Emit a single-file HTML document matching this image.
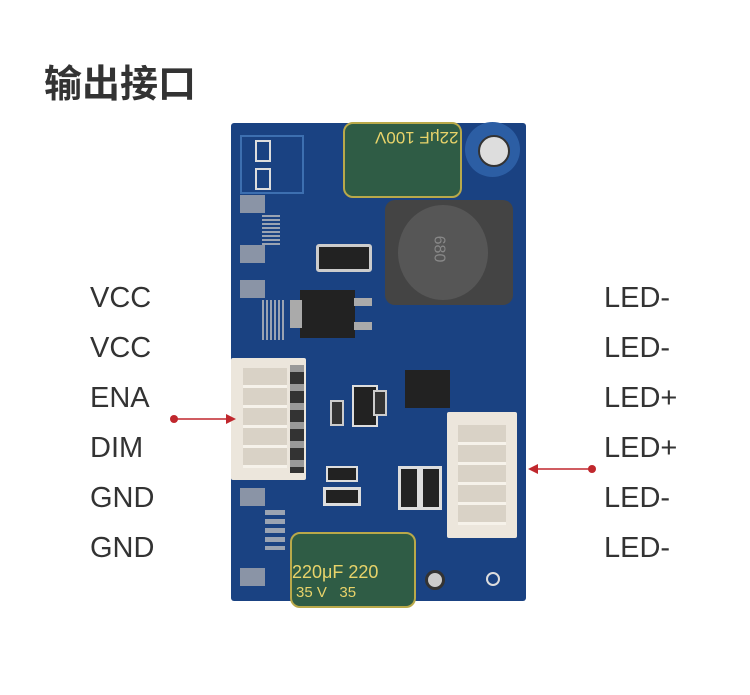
<!DOCTYPE html>
<html><head><meta charset="utf-8"><style>
body{margin:0;width:750px;height:695px;background:#fff;position:relative;overflow:hidden;font-family:"Liberation Sans","Noto Sans CJK SC",sans-serif}
.a{position:absolute}
.t{position:absolute;font-size:29px;color:#333;line-height:30px}
.pad{position:absolute;background:#8a94a6}
.bk{position:absolute;background:#222}
</style></head><body>
<div class="a" style="left:44px;top:58px;font-size:38px;font-weight:bold;color:#333;font-family:'Noto Sans CJK SC',sans-serif;line-height:46px">输出接口</div>

<div class="t" style="left:90px;top:283px">VCC</div>
<div class="t" style="left:90px;top:333px">VCC</div>
<div class="t" style="left:90px;top:383px">ENA</div>
<div class="t" style="left:90px;top:433px">DIM</div>
<div class="t" style="left:90px;top:483px">GND</div>
<div class="t" style="left:90px;top:533px">GND</div>
<div class="t" style="left:604px;top:283px">LED-</div>
<div class="t" style="left:604px;top:333px">LED-</div>
<div class="t" style="left:604px;top:383px">LED+</div>
<div class="t" style="left:604px;top:433px">LED+</div>
<div class="t" style="left:604px;top:483px">LED-</div>
<div class="t" style="left:604px;top:533px">LED-</div>

<!-- board -->
<div class="a" style="left:231px;top:123px;width:295px;height:478px;background:#1a4282;border-radius:3px"></div>
<div class="a" style="left:240px;top:135px;width:60px;height:55px;border:2px solid #3d6fb0"></div>
<div class="a" style="left:255px;top:140px;width:12px;height:18px;border:2px solid #ddd"></div>
<div class="a" style="left:255px;top:168px;width:12px;height:18px;border:2px solid #ddd"></div>
<div class="pad" style="left:240px;top:195px;width:25px;height:18px"></div>
<div class="pad" style="left:240px;top:245px;width:25px;height:18px"></div>
<div class="pad" style="left:240px;top:280px;width:25px;height:18px"></div>
<div class="pad" style="left:262px;top:215px;width:18px;height:30px;background:repeating-linear-gradient(#9aa3b2 0 2px,#1a4282 2px 4px)"></div>
<div class="pad" style="left:262px;top:300px;width:22px;height:40px;background:repeating-linear-gradient(90deg,#9aa3b2 0 2px,#1a4282 2px 4px)"></div>
<!-- top cap -->
<div class="a" style="left:343px;top:122px;width:115px;height:72px;background:#2f5c45;border-radius:10px;border:2px solid #b9a94a"></div>
<div class="a" style="left:375px;top:127px;font-size:17px;color:#e8d36a;transform:rotate(180deg)">22μF 100V</div>
<!-- mount hole -->
<div class="a" style="left:465px;top:122px;width:55px;height:55px;border-radius:50%;background:#2c5ea4"></div>
<div class="a" style="left:478px;top:135px;width:28px;height:28px;border-radius:50%;background:#ddd;border:2px solid #333"></div>
<!-- inductor -->
<div class="a" style="left:385px;top:200px;width:128px;height:105px;background:#444;border-radius:10px"></div>
<div class="a" style="left:398px;top:205px;width:90px;height:95px;border-radius:50%;background:#565656"></div>
<div class="a" style="left:425px;top:240px;font-size:16px;color:#888;transform:rotate(90deg)">680</div>
<!-- diode D2 -->
<div class="bk" style="left:316px;top:244px;width:50px;height:22px;border:3px solid #ccc;border-radius:3px"></div>
<!-- transistor -->
<div class="bk" style="left:300px;top:290px;width:55px;height:48px"></div>
<div class="pad" style="left:290px;top:300px;width:12px;height:28px;background:#aaa"></div>
<div class="pad" style="left:354px;top:298px;width:18px;height:8px;background:#aaa"></div>
<div class="pad" style="left:354px;top:322px;width:18px;height:8px;background:#aaa"></div>
<!-- IC -->
<div class="bk" style="left:405px;top:370px;width:45px;height:38px"></div>
<div class="bk" style="left:352px;top:385px;width:22px;height:38px;border:2px solid #ddd"></div>
<div class="pad" style="left:330px;top:400px;width:10px;height:22px;background:#333;border:2px solid #ccc"></div>
<div class="pad" style="left:373px;top:390px;width:10px;height:22px;background:#333;border:2px solid #ccc"></div>
<!-- resistors -->
<div class="bk" style="left:398px;top:466px;width:16px;height:38px;border:3px solid #ddd"></div>
<div class="bk" style="left:420px;top:466px;width:16px;height:38px;border:3px solid #ddd"></div>
<div class="bk" style="left:326px;top:466px;width:28px;height:12px;border:2px solid #ddd"></div>
<div class="bk" style="left:323px;top:487px;width:32px;height:13px;border:3px solid #ddd"></div>
<div class="pad" style="left:240px;top:488px;width:25px;height:18px"></div>
<div class="pad" style="left:265px;top:510px;width:20px;height:40px;background:repeating-linear-gradient(#9aa3b2 0 5px,#1a4282 5px 9px)"></div>
<div class="pad" style="left:240px;top:568px;width:25px;height:18px"></div>
<!-- left connector -->
<div class="a" style="left:231px;top:358px;width:75px;height:122px;background:#ece6dc;border-radius:2px"></div>
<div class="a" style="left:243px;top:368px;width:44px;height:100px;background:repeating-linear-gradient(#d9d2c6 0 17px,#f6f2ea 17px 20px)"></div>
<div class="a" style="left:290px;top:365px;width:14px;height:108px;background:repeating-linear-gradient(#999 0 7px,#333 7px 19px)"></div>
<!-- right connector -->
<div class="a" style="left:447px;top:412px;width:70px;height:126px;background:#ece6dc;border-radius:2px"></div>
<div class="a" style="left:458px;top:425px;width:48px;height:100px;background:repeating-linear-gradient(#d9d2c6 0 17px,#f6f2ea 17px 20px)"></div>
<!-- bottom cap -->
<div class="a" style="left:290px;top:532px;width:122px;height:72px;background:#2f5c45;border-radius:10px;border:2px solid #b9a94a"></div>
<div class="a" style="left:292px;top:562px;font-size:18px;color:#e8d36a;white-space:nowrap">220μF 220</div>
<div class="a" style="left:296px;top:584px;font-size:15px;color:#e8d36a;white-space:nowrap">35 V &nbsp; 35</div>
<div class="a" style="left:425px;top:570px;width:14px;height:14px;border-radius:50%;background:#ccc;border:3px solid #333"></div>
<div class="a" style="left:486px;top:572px;width:10px;height:10px;border-radius:50%;border:2px solid #ddd"></div>

<!-- arrows -->
<svg class="a" style="left:0;top:0" width="750" height="695">
<line x1="174" y1="419" x2="228" y2="419" stroke="#c0272d" stroke-width="1.5"/>
<circle cx="174" cy="419" r="4" fill="#c0272d"/>
<polygon points="236,419 226,414 226,424" fill="#c0272d"/>
<line x1="592" y1="469" x2="537" y2="469" stroke="#c0272d" stroke-width="1.5"/>
<circle cx="592" cy="469" r="4" fill="#c0272d"/>
<polygon points="528,469 538,464 538,474" fill="#c0272d"/>
</svg>
</body></html>
